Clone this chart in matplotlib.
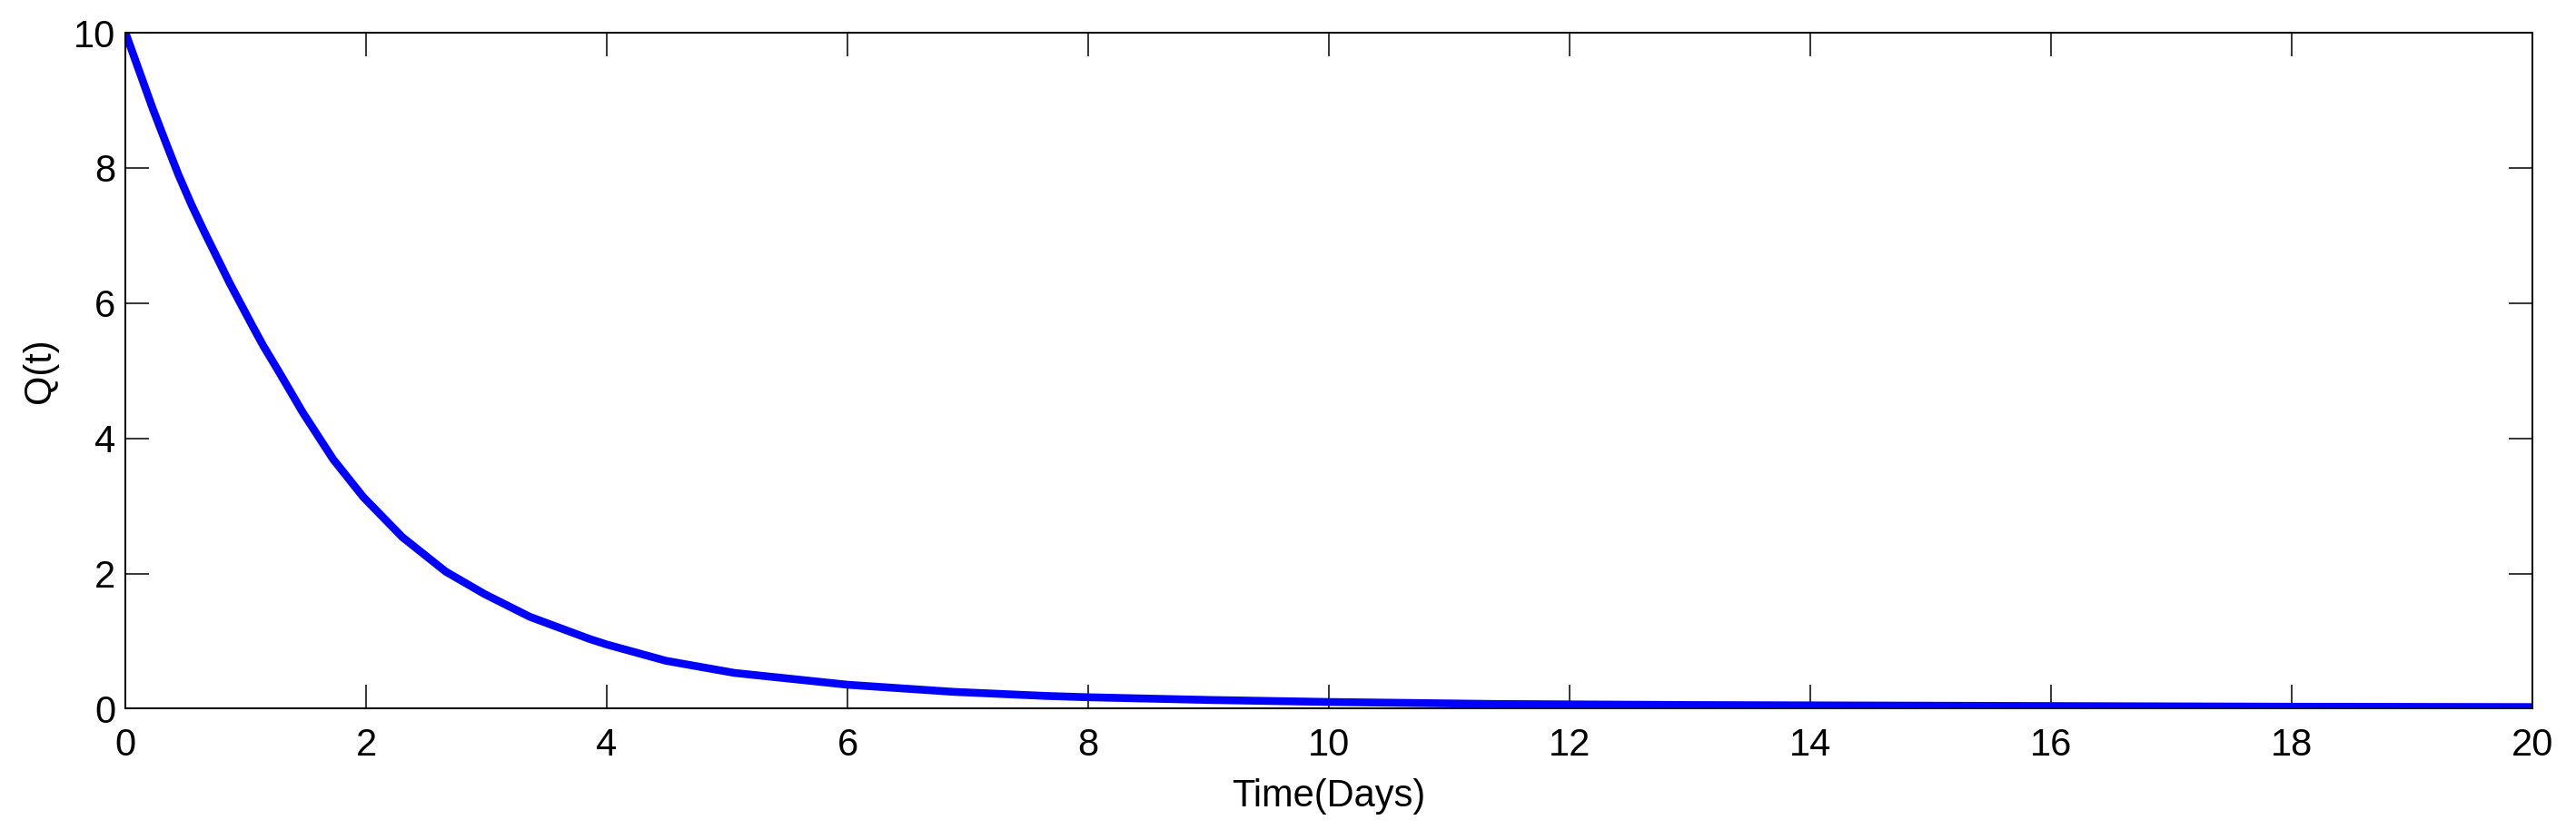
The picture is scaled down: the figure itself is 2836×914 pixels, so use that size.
import matplotlib
matplotlib.use("Agg")
import matplotlib.pyplot as plt

# Q(t)
time_days = [0, 0.226, 0.33, 0.44, 0.55, 0.654, 0.865, 1.05, 1.145, 1.27,
             1.474, 1.726, 1.977, 2.30, 2.66, 2.98, 3.36, 3.86, 4.0, 4.49,
             5.06, 6.0, 6.88, 7.64, 8.0, 9.0, 10.0, 11.4, 13.0, 14.0, 16.0,
             18.0, 20.0]
q_values = [10, 8.88, 8.40, 7.90, 7.45, 7.06, 6.30, 5.68, 5.37, 5.00,
            4.38, 3.69, 3.13, 2.54, 2.03, 1.70, 1.36, 1.03, 0.95, 0.71,
            0.53, 0.355, 0.25, 0.19, 0.17, 0.13, 0.10, 0.07, 0.055, 0.05, 0.04,
            0.03, 0.025]

x_ticks = [0, 2, 4, 6, 8, 10, 12, 14, 16, 18, 20]
y_ticks = [0, 2, 4, 6, 8, 10]

plt.rcParams['font.family'] = ['Liberation Sans', 'DejaVu Sans']

fig = plt.figure(figsize=(28.36, 9.14), dpi=100)
ax = fig.add_axes([0.0487, 0.1461, 0.9344, 0.8145])

ax.plot(time_days, q_values, color=(0, 0, 1), linewidth=6.2,
        solid_joinstyle='round')

ax.set_xlim(0, 20)
ax.set_ylim(0, 10)
ax.set_xticks(x_ticks)
ax.set_yticks(y_ticks)

for s in ax.spines.values():
    s.set_linewidth(1.45)
    s.set_color('black')

ax.tick_params(axis='both', direction='in', length=19, width=1.1,
               top=True, right=True, labelsize=30, colors='black')
ax.tick_params(axis='x', pad=15)
ax.tick_params(axis='y', pad=8)

ax.set_xlabel('Time(Days)', fontsize=30, labelpad=11)
ax.set_ylabel('Q(t)', fontsize=30, labelpad=12)

fig.savefig('out.png', dpi=100)
